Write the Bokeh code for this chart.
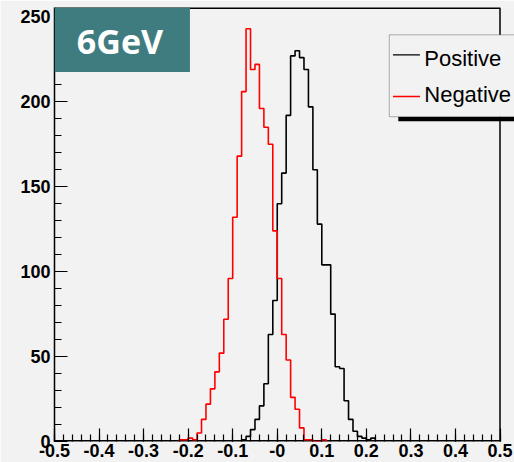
import numpy as np
from bokeh.plotting import figure
from bokeh.models import Range1d, FixedTicker, BoxAnnotation, Label, Span
from bokeh.embed import file_html
from bokeh.resources import INLINE

# Histogram contents, 0.01-wide bins starting at the given lower edge
bin_width = 0.01
pos_start = -0.08
pos_counts = [1, 3, 7, 13, 21, 34, 63, 83, 140, 158, 192, 227, 230, 226, 219,
              197, 160, 128, 104, 104, 75, 44, 43, 24, 13, 6, 3, 2, 1, 2]
neg_start = -0.22
neg_counts = [1, 1, 2, 1, 5, 13, 22, 31, 41, 52, 72, 96, 132, 168, 206, 243,
              219, 222, 196, 185, 175, 124, 96, 63, 48, 26, 19, 8, 1, 1, 0, 0, 1]

x_ticks = [-0.5, -0.4, -0.3, -0.2, -0.1, 0.0, 0.1, 0.2, 0.3, 0.4, 0.5]
x_tick_labels = ["-0.5", "-0.4", "-0.3", "-0.2", "-0.1", "-0", "0.1", "0.2", "0.3", "0.4", "0.5"]
y_ticks = [0, 50, 100, 150, 200, 250]

BG = "#f2f2f2"
X_LO, X_HI, Y_HI = -0.5, 0.5, 255.5

# The frame runs to the right edge of the canvas so the legend can hang
# past the histogram box; the box itself is closed at x = 0.5.
LEFT, WIDTH = 54, 514
x_end = X_LO + (WIDTH - LEFT) / 445.5


def outline(start, counts):
    """Closed step outline of a histogram, from the baseline up and back down."""
    edges = start + bin_width * np.arange(len(counts) + 1)
    xs = np.repeat(edges, 2)
    ys = np.concatenate([[0], np.repeat(np.asarray(counts, float), 2), [0]])
    return xs, ys


p = figure(width=WIDTH, height=462,
           x_range=Range1d(X_LO, x_end), y_range=Range1d(0, Y_HI),
           output_backend="svg", toolbar_location=None,
           min_border_left=LEFT, min_border_right=0,
           min_border_top=7, min_border_bottom=21,
           background_fill_color=BG, border_fill_color=BG)
p.grid.visible = False
p.outline_line_color = None

# ROOT-style axes: ticks pointing into the frame
p.xaxis.ticker = FixedTicker(ticks=x_ticks,
                             minor_ticks=list(np.round(np.arange(-0.5, 0.501, 0.02), 2)))
p.xaxis.major_label_overrides = dict(zip(x_ticks, x_tick_labels))
p.yaxis.ticker = FixedTicker(ticks=y_ticks, minor_ticks=list(range(0, 256, 10)))
for ax in (p.xaxis[0], p.yaxis[0]):
    ax.axis_line_color = "black"
    ax.axis_line_width = 1.5
    ax.major_tick_in = 13
    ax.major_tick_out = 0
    ax.minor_tick_in = 7
    ax.minor_tick_out = 0
    ax.major_tick_line_color = "black"
    ax.minor_tick_line_color = "black"
    ax.major_tick_line_width = 1.2
    ax.minor_tick_line_width = 1.2
    ax.major_label_text_font = "Liberation Sans"
    ax.major_label_text_font_style = "bold"
    ax.major_label_text_font_size = "18px"
    ax.major_label_text_color = "black"
p.xaxis.axis_line_color = None
p.xaxis.major_label_standoff = 2
p.yaxis.major_label_standoff = 4

# box edges: bottom, top (half of each line falls outside the frame) and right
p.line([X_LO, X_HI], [0, 0], line_color="black", line_width=3)
p.line([X_LO, X_HI], [Y_HI, Y_HI], line_color="black", line_width=3)
p.add_layout(Span(location=X_HI, dimension="height", line_color="black", line_width=1.5))

xs, ys = outline(pos_start, pos_counts)
p.line(xs, ys, line_color="black", line_width=1.6)
xs, ys = outline(neg_start, neg_counts)
p.line(xs, ys, line_color="#ff0000", line_width=1.6)

# energy tag in the upper-left corner
p.add_layout(BoxAnnotation(left=-0.5, right=-0.196, bottom=217.6, top=Y_HI,
                           fill_color="#3f7c80", fill_alpha=1, line_alpha=0))
p.add_layout(Label(x=-0.353, y=236.0, text="6GeV", text_align="center",
                   text_baseline="middle", text_color="white",
                   text_font="Open Sans", text_font_style="bold",
                   text_font_size="34px"))

# legend with a drop shadow
p.add_layout(BoxAnnotation(left=0.2717, right=0.62, bottom=188.6, top=191.2,
                           fill_color="black", fill_alpha=1, line_alpha=0,
                           level="overlay"))
p.add_layout(BoxAnnotation(left=0.2515, right=0.62, bottom=191.2, top=239.4,
                           fill_color=BG, fill_alpha=1, line_color="black",
                           line_width=1, level="overlay"))
for color, yy in (("black", 227.6), ("#ff0000", 203.1)):
    p.add_layout(BoxAnnotation(left=0.2597, right=0.3203, bottom=yy - 0.4, top=yy + 0.4,
                               fill_color=color, fill_alpha=1, line_alpha=0,
                               level="overlay"))
for txt, yy in (("Positive", 225.6), ("Negative", 204.1)):
    p.add_layout(Label(x=0.330, y=yy, text=txt, text_baseline="middle",
                       text_font="Liberation Sans", text_font_size="22px",
                       text_color="black", level="overlay"))

open("out.html", "w").write(file_html(p, INLINE))
